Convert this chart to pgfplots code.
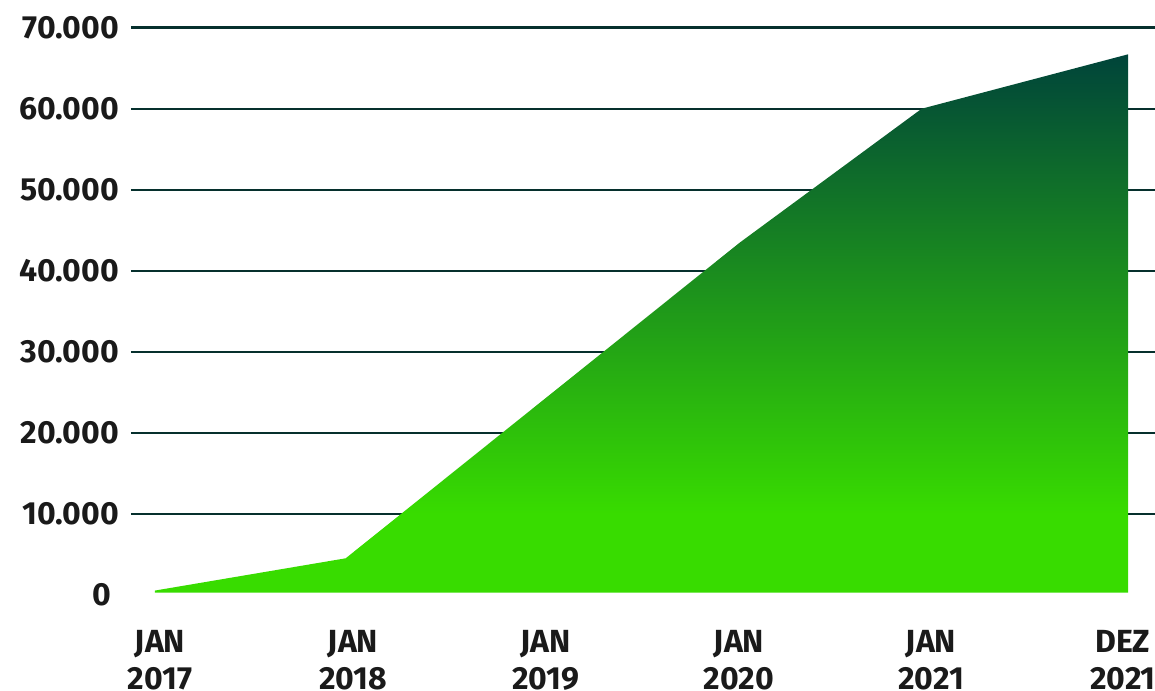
\documentclass[border=0pt]{standalone}
\usepackage{pgfplots}
\pgfplotsset{compat=1.18}
\usepackage{fontspec}
\setmainfont{Fira Sans}
\definecolor{gridc}{HTML}{06302D}
\definecolor{txt}{HTML}{1A1A1A}
\definecolor{gbot}{HTML}{38DC00}
\definecolor{gtop}{HTML}{00443A}
\pgfdeclareverticalshading{greenfade}{100bp}{color(0bp)=(gbot); color(32.3bp)=(gbot); color(75bp)=(gtop); color(100bp)=(gtop)}
\begin{document}
\begin{tikzpicture}
\begin{axis}[
  at={(65.5pt,-297.5pt)}, anchor=south west,
  scale only axis, width=519.5pt, height=291.78pt,
  xmin=-0.1233, xmax=5.2158, ymin=0, ymax=72000,
  axis line style={draw=none},
  major tick length=0pt,
  tick style={draw=none},
  ytick={10000,20000,30000,40000,50000,60000,70000},
  yticklabels={10.000,20.000,30.000,40.000,50.000,60.000,70.000},
  extra y ticks={0}, extra y tick labels={0},
  extra y tick style={grid=none, yticklabel style={xshift=-3.65pt}},
  ymajorgrids, grid style={gridc, line width=1.2pt},
  xtick={0.0257,1.0175,2.009,3.001,3.988,4.974},
  xticklabels={{JAN\\2017},{JAN\\2018},{JAN\\2019},{JAN\\2020},{JAN\\2021},{DEZ\\2021}},
  xticklabel style={align=center, anchor=north, inner sep=0pt, yshift=-17.5pt,
    font=\fontsize{16}{18.5}\selectfont\bfseries, text=txt},
  yticklabel style={anchor=east, inner sep=0pt, xshift=-5.85pt,
    font=\fontsize{16}{18.5}\selectfont\bfseries, text=txt},
]
\addplot[draw=none, shading=greenfade] coordinates {
  (0,280) (0,550) (0.98,4530) (2.0,24150) (3.006,43500) (3.94,60000) (5.0,66710) (5.0,280)
};
\end{axis}
\pgfresetboundingbox
\path[use as bounding box] (0,0) rectangle (577.5pt,-345pt);
\end{tikzpicture}
\end{document}
